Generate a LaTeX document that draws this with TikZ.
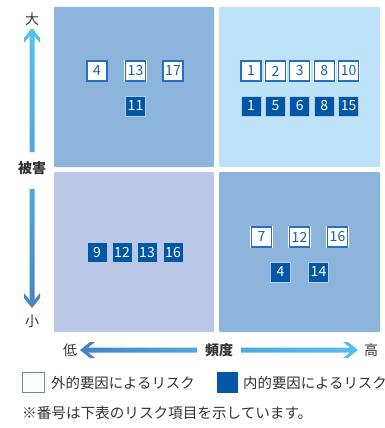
\documentclass[tikz,border=0pt]{standalone}
\usepackage{fontspec}
\setmainfont{Noto Sans CJK JP}
\definecolor{qmid}{HTML}{8DB5DB}
\definecolor{qlight}{HTML}{BEE2F8}
\definecolor{qlav}{HTML}{BBC7E7}
\definecolor{boxblue}{HTML}{0057A8}
\definecolor{edgeblue}{HTML}{2A6FBF}
\definecolor{numblue}{HTML}{1F5FAA}
\definecolor{txt}{HTML}{333333}
\definecolor{arrlight}{HTML}{58C0EC}
\definecolor{arrmid}{HTML}{50A8DF}
\definecolor{arrdark}{HTML}{4582C5}
\tikzset{
  extbox/.style={rectangle, minimum size=20pt, inner sep=0pt, fill=white,
    draw=edgeblue, line width=1.2pt, preaction={draw=white, line width=2.6pt},
    text=numblue, font=\fontsize{14}{14}\selectfont},
  intbox/.style={rectangle, minimum size=20pt, inner sep=0pt, fill=boxblue,
    draw=white!70!boxblue, line width=0.8pt,
    text=white, font=\fontsize{14}{14}\selectfont},
  axlabel/.style={text=txt, font=\fontsize{14}{14}\selectfont, inner sep=0pt},
  axbold/.style={text=txt, font=\fontsize{14}{14}\selectfont\bfseries, inner sep=0pt},
  legtext/.style={text=txt, font=\fontsize{14.4}{15}\selectfont, inner sep=0pt, anchor=west},
}
\begin{document}
\begin{tikzpicture}[x=1pt,y=-1pt]
\useasboundingbox (0,0) rectangle (385,428);
% quadrants
\fill[qmid, rounded corners=1pt] (54,7) rectangle (214,167);
\fill[qlight, rounded corners=1pt] (219,7) rectangle (380,167);
\fill[qlav, rounded corners=1pt] (54,172) rectangle (214,332);
\fill[qmid, rounded corners=1pt] (219,172) rectangle (380,332);
% vertical arrow
\shade[top color=arrlight, bottom color=arrmid]
  (32,28) -- (40,38) -- (40,43) -- (34.5,36.1) -- (34.5,152) -- (29.5,152)
  -- (29.5,36.1) -- (24,43) -- (24,38) -- cycle;
\shade[top color=arrmid, bottom color=arrdark]
  (32,308) -- (40,298) -- (40,293) -- (34.5,299.9) -- (34.5,189) -- (29.5,189)
  -- (29.5,299.9) -- (24,293) -- (24,298) -- cycle;
% horizontal arrow
\shade[left color=arrdark, right color=arrmid]
  (80,350) -- (90,342) -- (95,342) -- (88.1,347.5) -- (197,347.5) -- (197,352.5)
  -- (88.1,352.5) -- (95,358) -- (90,358) -- cycle;
\shade[left color=arrmid, right color=arrlight]
  (358,350) -- (348,342) -- (343,342) -- (349.9,347.5) -- (241,347.5) -- (241,352.5)
  -- (349.9,352.5) -- (343,358) -- (348,358) -- cycle;
% axis labels
\node[axlabel] (big) at (32,19) {大};
\node[axbold] (dmg) at (32,168) {被害};
\node[axlabel] (small) at (32,321) {小};
\node[axlabel] (low) at (70,350) {低};
\node[axbold] (freq) at (219,350) {頻度};
\node[axlabel] (high) at (371,350) {高};
% top-left
\node[extbox] (tla) at (97,71) {4};
\node[extbox] (tlb) at (135.5,71) {13};
\node[extbox] (tlc) at (173,71) {17};
\node[intbox] (tld) at (135.5,106) {11};
% top-right
\node[extbox] (tra) at (251,71) {1};
\node[extbox] (trb) at (275.4,71) {2};
\node[extbox] (trc) at (299.8,71) {3};
\node[extbox] (trd) at (324.2,71) {8};
\node[extbox] (tre) at (348.6,71) {10};
\node[intbox] (trf) at (251,106) {1};
\node[intbox] (trg) at (275.4,106) {5};
\node[intbox] (trh) at (299.8,106) {6};
\node[intbox] (tri) at (324.2,106) {8};
\node[intbox] (trj) at (348.6,106) {15};
% bottom-left
\node[intbox] (bla) at (97,252.5) {9};
\node[intbox] (blb) at (122,252.5) {12};
\node[intbox] (blc) at (147,252.5) {13};
\node[intbox] (bld) at (173,252.5) {16};
% bottom-right
\node[extbox] (bra) at (261.5,237) {7};
\node[extbox] (brb) at (299.5,237) {12};
\node[extbox] (brc) at (337.5,237) {16};
\node[intbox] (brd) at (280.5,272) {4};
\node[intbox] (bre) at (318.5,272) {14};
% legend
\node[rectangle, minimum width=22pt, minimum height=20pt, inner sep=0pt, fill=white, draw=edgeblue!80, line width=1pt] (legext) at (33.5,382.5) {};
\node[legtext] (legexttxt) at (51,383) {外的要因によるリスク};
\node[rectangle, minimum width=21pt, minimum height=21pt, inner sep=0pt, fill=boxblue] (legint) at (227.5,382.5) {};
\node[legtext] (leginttxt) at (243,383) {内的要因によるリスク};
\node[legtext, font=\fontsize{14.6}{15}\selectfont] (note) at (22,413) {※番号は下表のリスク項目を示しています。};
\end{tikzpicture}
\end{document}
